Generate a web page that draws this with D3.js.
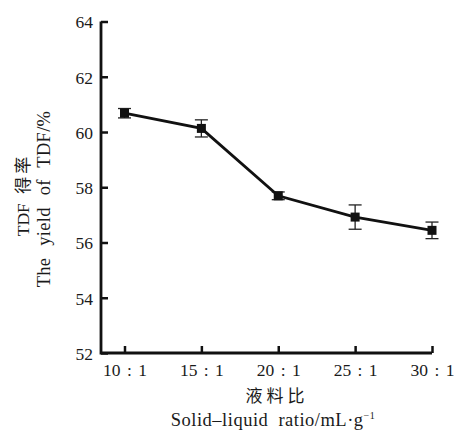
<!DOCTYPE html>
<html>
<head>
<meta charset="utf-8">
<script src="https://cdn.jsdelivr.net/npm/d3@7"></script>
<style>
  body { margin: 0; background: #fff; }
  text { font-family: "Liberation Serif", "Times New Roman", serif; fill: #1a1a1a; }
  .cjk { font-family: "Noto Sans CJK SC", sans-serif; }
</style>
</head>
<body>
<div id="chart"></div>
<script>
// data
var ratios = ["10 : 1", "15 : 1", "20 : 1", "25 : 1", "30 : 1"];
var yields = [60.68, 60.13, 57.69, 56.92, 56.44];
var errs = [0.17, 0.31, 0.14, 0.44, 0.30];
var yTicks = [52, 54, 56, 58, 60, 62, 64];

var svgWidth = 458, svgHeight = 432;
var plotLeft = 101, plotRight = 432, plotTop = 21.5, plotBottom = 353;

var svg = d3.select("#chart").append("svg")
  .attr("width", svgWidth)
  .attr("height", svgHeight);

var x = d3.scalePoint().domain(ratios).range([124.5, 432]);
var y = d3.scaleLinear().domain([52, 64]).range([plotBottom, plotTop]);

var rows = ratios.map(function(r, i) {
  return { r: r, v: yields[i], e: errs[i] };
});

// axes, ticks point inward
var yAxis = svg.append("g")
  .attr("transform", "translate(" + plotLeft + ",0)")
  .call(d3.axisRight(y).tickValues(yTicks).tickSize(7).tickSizeOuter(0).tickFormat(d3.format("d")));
yAxis.select(".domain").remove();
yAxis.selectAll("line").attr("stroke", "#111").attr("stroke-width", 2.5);
yAxis.selectAll("text")
  .attr("x", -8).attr("dy", "0.36em")
  .style("text-anchor", "end")
  .style("font-size", "17.5px");

var xAxis = svg.append("g")
  .attr("transform", "translate(0," + plotBottom + ")")
  .call(d3.axisTop(x).tickSize(7).tickSizeOuter(0));
xAxis.select(".domain").remove();
xAxis.selectAll("line").attr("stroke", "#111").attr("stroke-width", 2.5);
xAxis.selectAll("text")
  .attr("y", 23).attr("dy", "0")
  .style("font-size", "17.5px")
  .style("word-spacing", "2px");

// axis frame lines
svg.append("path")
  .attr("d", "M" + plotLeft + "," + plotTop + "V" + plotBottom + "H" + plotRight)
  .attr("fill", "none")
  .attr("stroke", "#111")
  .attr("stroke-width", 2.8);

// error bars
var eb = svg.append("g").selectAll("g")
  .data(rows).enter().append("g")
  .attr("stroke", "#222").attr("stroke-width", 1.3);
eb.append("line")
  .attr("x1", function(d) { return x(d.r); })
  .attr("x2", function(d) { return x(d.r); })
  .attr("y1", function(d) { return y(d.v - d.e); })
  .attr("y2", function(d) { return y(d.v + d.e); });
eb.selectAll(".cap")
  .data(function(d) { return [[d.r, d.v - d.e], [d.r, d.v + d.e]]; })
  .enter().append("line")
  .attr("x1", function(c) { return x(c[0]) - 6.5; })
  .attr("x2", function(c) { return x(c[0]) + 6.5; })
  .attr("y1", function(c) { return y(c[1]); })
  .attr("y2", function(c) { return y(c[1]); });

// line
var line = d3.line()
  .x(function(d) { return x(d.r); })
  .y(function(d) { return y(d.v); });
svg.append("path")
  .datum(rows)
  .attr("d", line)
  .attr("fill", "none")
  .attr("stroke", "#111")
  .attr("stroke-width", 2.8);

// square markers
svg.append("g").selectAll("rect")
  .data(rows).enter().append("rect")
  .attr("x", function(d) { return x(d.r) - 4.5; })
  .attr("y", function(d) { return y(d.v) - 4.5; })
  .attr("width", 9).attr("height", 9)
  .attr("fill", "#111");

// axis titles
svg.append("text")
  .attr("transform", "translate(29,195) rotate(-90)")
  .style("text-anchor", "middle")
  .style("font-size", "17.5px")
  .style("word-spacing", "5px")
  .html('TDF <tspan class="cjk" style="font-size:17px;letter-spacing:3px">得率</tspan>');
svg.append("text")
  .attr("transform", "translate(50,199) rotate(-90)")
  .style("text-anchor", "middle")
  .style("font-size", "18.5px")
  .style("letter-spacing", "0.3px")
  .style("word-spacing", "7px")
  .text("The yield of TDF/%");

svg.append("text")
  .attr("class", "cjk")
  .attr("x", 277).attr("y", 402)
  .style("text-anchor", "middle")
  .style("font-size", "17px")
  .style("letter-spacing", "4px")
  .text("液料比");
svg.append("text")
  .attr("x", 273).attr("y", 426)
  .style("text-anchor", "middle")
  .style("font-size", "18.5px")
  .style("letter-spacing", "0.5px")
  .style("word-spacing", "5px")
  .html('Solid\u2013liquid ratio/mL\u00b7g<tspan dy="-7" style="font-size:10px">\u22121</tspan>');
</script>
</body>
</html>
